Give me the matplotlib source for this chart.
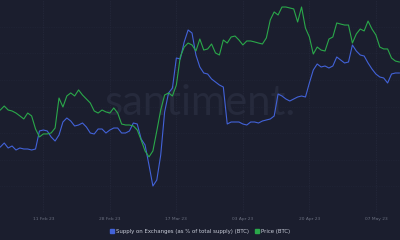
"""
Santiment-style chart: BTC supply on exchanges vs price, Feb-May 2023.
"""
import numpy as np
import pandas as pd
import matplotlib
matplotlib.use("Agg")
import matplotlib.pyplot as plt
import matplotlib.dates as mdates
from matplotlib.lines import Line2D

BG = "#1b1e2e"
GRID = "#2a2e42"
BLUE = "#4262d8"
GREEN = "#2aa84a"

START = "2023-01-31"

# daily BTC price (USD)
price = [
    23010, 23300, 23010, 22940, 22790, 22580, 22360, 22790, 22580, 21630,
    21050, 21270, 21270, 21340, 21700, 23880, 23230, 24030, 24250, 24030,
    24470, 24100, 23810, 23520, 22940, 22790, 23010, 22870, 22790, 23160,
    22790, 21990, 21920, 21920, 21850, 21560, 20830, 20030, 19600, 20030,
    21490, 23010, 24100, 24250, 24030, 24830, 26870, 27590, 27880, 27740,
    27300, 28170, 27370, 27450, 27810, 27160, 27010, 28100, 27880, 28320,
    28390, 28100, 27740, 28030, 28030, 27960, 27880, 27810, 28250, 29560,
    30140, 29920, 30500, 30500, 30430, 30360, 29410, 30500, 28970, 28320,
    27080, 27590, 27370, 27300, 28170, 28320, 29340, 29260, 29190, 29190,
    27880, 28540, 28900, 28760, 29480, 28900, 28470, 27590, 27450, 27450,
    26790, 26570, 26500,
]

# daily supply on exchanges (% of total supply)
supply = [
    6.265, 6.285, 6.260, 6.270, 6.250, 6.260, 6.255, 6.255, 6.250, 6.255,
    6.345, 6.350, 6.345, 6.315, 6.295, 6.325, 6.390, 6.410, 6.395, 6.370,
    6.375, 6.385, 6.365, 6.335, 6.330, 6.355, 6.355, 6.335, 6.350, 6.360,
    6.360, 6.335, 6.335, 6.345, 6.385, 6.380, 6.305, 6.275, 6.175, 6.070,
    6.100, 6.225, 6.440, 6.535, 6.560, 6.710, 6.705, 6.790, 6.850, 6.835,
    6.725, 6.665, 6.635, 6.630, 6.605, 6.590, 6.575, 6.565, 6.380, 6.390,
    6.390, 6.390, 6.380, 6.375, 6.390, 6.390, 6.385, 6.395, 6.400, 6.405,
    6.420, 6.530, 6.520, 6.505, 6.495, 6.505, 6.515, 6.520, 6.515, 6.585,
    6.650, 6.680, 6.665, 6.670, 6.660, 6.670, 6.715, 6.700, 6.685, 6.690,
    6.775, 6.745, 6.725, 6.720, 6.685, 6.655, 6.630, 6.615, 6.610, 6.585,
    6.630, 6.635, 6.635,
]

tick_dates = ["2023-02-11", "2023-02-28", "2023-03-17",
              "2023-04-03", "2023-04-20", "2023-05-07"]

dates = pd.date_range(START, periods=len(price), freq="D")

fig = plt.figure(figsize=(4, 2.4), dpi=100, facecolor=BG)
ax = fig.add_axes([0, 27 / 240, 1, 213 / 240])
ax.set_facecolor(BG)
ax2 = ax.twinx()

for a in (ax, ax2):
    for s in a.spines.values():
        s.set_visible(False)

ax.set_xlim(dates[0] - pd.Timedelta(hours=2), dates[-1] + pd.Timedelta(hours=4))
ax.set_ylim(5.935, 7.0)
ax2.set_ylim(15520, 31010)

ax.set_yticks(np.linspace(5.935, 7.0, 9)[1:-1])
ax.set_yticklabels([])
ax.tick_params(axis="y", length=0)
ax2.set_yticks([])

ax.set_xticks(pd.to_datetime(tick_dates))
ax.xaxis.set_major_formatter(mdates.DateFormatter("%d %b %y"))
ax.tick_params(axis="x", length=0, pad=3, labelsize=3.2, labelcolor="#6b7080")

ax.grid(True, axis="x", color=GRID, linestyle=(0, (1, 1.5)), linewidth=0.5)
ax.grid(True, axis="y", color="#23273a", linestyle=(0, (1, 1.5)), linewidth=0.5)

ax.text(0.5, 0.515, "santiment.", transform=ax.transAxes, ha="center",
        va="center", fontsize=30, color="#262a3c", family="Lato", zorder=0)

ax.plot(dates, supply, color=BLUE, linewidth=0.8, zorder=3)
ax2.plot(dates, price, color=GREEN, linewidth=0.8, zorder=2)

handles = [
    Line2D([], [], marker="s", linestyle="", color=BLUE, markersize=2.5),
    Line2D([], [], marker="s", linestyle="", color=GREEN, markersize=2.5),
]
fig.legend(handles, ["Supply on Exchanges (as % of total supply) (BTC)", "Price (BTC)"],
           loc="center", bbox_to_anchor=(0.5, 9 / 240), ncol=2, frameon=False,
           fontsize=3.9, labelcolor="#c8ccd8", handletextpad=0.2,
           columnspacing=1.2, handlelength=0.8)

fig.savefig("out.png", dpi=100, facecolor=BG)
